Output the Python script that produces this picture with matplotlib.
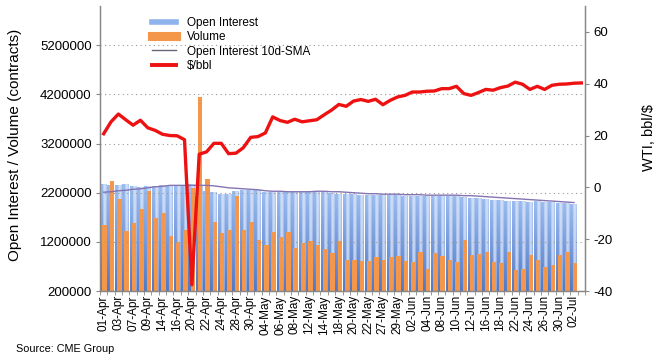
import numpy as np
import matplotlib
matplotlib.use("Agg")
import matplotlib.pyplot as plt
from matplotlib.lines import Line2D
from matplotlib.colors import to_rgb

plt.rcParams['font.family'] = ['Liberation Sans', 'DejaVu Sans']

# trading days (last one has only a price point)
dates = ['01-Apr', '02-Apr', '03-Apr', '06-Apr', '07-Apr', '08-Apr', '09-Apr', '13-Apr', '14-Apr',
         '15-Apr', '16-Apr', '17-Apr', '20-Apr', '21-Apr', '22-Apr', '23-Apr', '24-Apr', '27-Apr',
         '28-Apr', '29-Apr', '30-Apr', '01-May', '04-May', '05-May', '06-May', '07-May', '08-May',
         '11-May', '12-May', '13-May', '14-May', '15-May', '18-May', '19-May', '20-May', '21-May',
         '22-May', '26-May', '27-May', '28-May', '29-May', '01-Jun', '02-Jun', '03-Jun', '04-Jun',
         '05-Jun', '08-Jun', '09-Jun', '10-Jun', '11-Jun', '12-Jun', '15-Jun', '16-Jun', '17-Jun',
         '18-Jun', '19-Jun', '22-Jun', '23-Jun', '24-Jun', '25-Jun', '26-Jun', '29-Jun', '30-Jun',
         '01-Jul', '02-Jul', '03-Jul']

open_interest = [2380000, 2360000, 2350000, 2370000, 2330000, 2320000, 2330000, 2340000, 2350000,
                 2350000, 2350000, 2360000, 2370000, 2340000, 2230000, 2210000, 2180000, 2170000,
                 2240000, 2260000, 2260000, 2250000, 2210000, 2210000, 2210000, 2210000, 2210000,
                 2220000, 2230000, 2220000, 2210000, 2190000, 2180000, 2170000, 2170000, 2160000,
                 2150000, 2150000, 2160000, 2150000, 2150000, 2140000, 2140000, 2130000, 2140000,
                 2130000, 2140000, 2140000, 2130000, 2120000, 2100000, 2100000, 2080000, 2060000,
                 2050000, 2040000, 2040000, 2030000, 2020000, 2030000, 2020000, 2010000, 2000000,
                 1990000, 1980000]

volume = [1540000, 2440000, 2070000, 1430000, 1590000, 1870000, 2240000, 1690000, 1780000,
          1320000, 1200000, 1450000, 2300000, 4150000, 2480000, 1610000, 1390000, 1440000,
          2140000, 1440000, 1610000, 1240000, 1130000, 1410000, 1300000, 1410000, 1070000,
          1170000, 1220000, 1130000, 1050000, 980000, 1210000, 840000, 840000, 820000,
          810000, 890000, 840000, 890000, 910000, 820000, 790000, 990000, 640000,
          980000, 910000, 840000, 790000, 1230000, 940000, 960000, 990000, 800000,
          770000, 990000, 620000, 640000, 940000, 840000, 690000, 730000, 940000,
          990000, 780000]

oi_sma = [2210000, 2220000, 2240000, 2250000, 2270000, 2280000, 2300000, 2320000, 2330000,
          2350000, 2350000, 2350000, 2350000, 2350000, 2350000, 2340000, 2320000, 2300000,
          2290000, 2280000, 2270000, 2260000, 2240000, 2230000, 2230000, 2220000, 2220000,
          2220000, 2220000, 2230000, 2230000, 2220000, 2220000, 2210000, 2200000, 2190000,
          2180000, 2180000, 2170000, 2170000, 2170000, 2160000, 2160000, 2160000, 2150000,
          2150000, 2150000, 2150000, 2150000, 2140000, 2140000, 2130000, 2120000, 2110000,
          2100000, 2090000, 2080000, 2070000, 2060000, 2050000, 2040000, 2030000, 2020000,
          2010000, 2000000]

price = [20.7, 25.3, 28.3, 26.1, 24.0, 25.9, 23.0, 22.0, 20.5, 20.0, 19.9, 18.4,
         -37.6, 12.8, 13.7, 17.0, 17.0, 13.0, 13.2, 15.3, 19.3, 19.6, 21.0, 27.2,
         25.8, 25.1, 26.3, 25.3, 25.7, 26.1, 28.0, 29.8, 32.0, 31.3, 33.3, 33.9,
         33.2, 34.0, 31.9, 33.6, 34.9, 35.5, 36.8, 36.8, 37.1, 37.2, 38.1, 38.1,
         39.0, 36.2, 35.5, 36.6, 37.8, 37.5, 38.5, 39.1, 40.6, 39.8, 37.8, 39.0,
         37.8, 39.4, 39.8, 39.9, 40.2, 40.3]

fig = plt.figure(figsize=(6.58, 3.64), dpi=100)
ax = fig.add_axes([100 / 658, 1 - 291 / 364, 485 / 658, 285 / 364])
ax2 = ax.twinx()

x = np.arange(len(open_interest))
ylo, yhi = 200000, 6000000

# open interest bars with a shaded fill
oi_bars = ax.bar(x - 0.02, open_interest, width=0.92, color='none', edgecolor='none', zorder=1)
top_c = np.array(to_rgb('#9bbcf0'))
bot_c = np.array(to_rgb('#5279c6'))
light_c = np.array(to_rgb('#e2ebfa'))
tt = np.linspace(0, 1, 24)
mix = np.interp(tt, [0, 0.4, 0.55, 0.8, 1.0], [0.0, 0.0, 0.75, 0.75, 0.2])
vv = np.linspace(0, 1, 60)[:, None, None]
base = top_c * (1 - vv) + bot_c * vv
grad = base * (1 - mix[None, :, None]) + light_c * mix[None, :, None]
for b in oi_bars:
    x0, w, h = b.get_x(), b.get_width(), b.get_height()
    im = ax.imshow(grad, extent=(x0, x0 + w, ylo, h), aspect='auto', zorder=1,
                   interpolation='bilinear')
    im.set_clip_path(b)

ax.bar(x + 0.13, volume, width=0.6, color='#f4974a', zorder=2)
ax.plot(x, oi_sma, color='#8474b2', lw=1.0, zorder=3)

ax.set_xlim(-0.5, len(dates) - 0.5)
ax.set_ylim(ylo, yhi)
ax.set_yticks(np.arange(200000, 5300000, 1000000))
ax.set_yticklabels([str(v) for v in range(200000, 5300000, 1000000)], fontsize=9.5)
ax.yaxis.grid(True, linestyle=(0, (1, 3)), color='#999999', lw=0.8)
ax.set_axisbelow(False)

ax.set_xticks(np.arange(0, len(dates) - 1, 2))
ax.set_xticklabels(dates[0:len(dates) - 1:2], rotation=90, fontsize=8.5)
ax.set_xticks(np.arange(-0.5, len(dates), 1), minor=True)
ax.tick_params(axis='x', which='major', length=0, pad=3)
ax.tick_params(axis='x', which='minor', length=3, color='#888888')
ax.tick_params(axis='y', length=3, color='#888888', pad=3)

ax2.plot(np.arange(len(price)), price, color='#ee1111', lw=2.4, zorder=5)
ax2.set_ylim(-40, 70)
ax2.set_yticks([-40, -20, 0, 20, 40, 60])
ax2.set_yticklabels(['-40', '-20', '0', '20', '40', '60'], fontsize=9.5)
ax2.tick_params(axis='y', length=3, color='#888888', pad=3)

for a in (ax, ax2):
    a.spines['top'].set_visible(False)
    for s in ('left', 'right', 'bottom'):
        a.spines[s].set_color('#888888')
        a.spines[s].set_linewidth(0.9)

ax.set_ylabel('Open Interest / Volume (contracts)', fontsize=11)
ax.yaxis.set_label_coords(-0.161, 0.512)
ax2.set_ylabel('WTI, bbl/$', fontsize=10.5)
ax2.yaxis.set_label_coords(1.117, 0.54)

handles = [Line2D([], [], color='#8db2ec', lw=4),
           Line2D([], [], color='#f4974a', lw=6.5),
           Line2D([], [], color='#666677', lw=1.0),
           Line2D([], [], color='#ee1111', lw=2.8)]
labels = ['Open Interest', 'Volume', 'Open Interest 10d-SMA', '$/bbl']
ax2.legend(handles, labels, loc='upper left', bbox_to_anchor=(0.107, 0.962), frameon=False,
           fontsize=8.5, handlelength=2.0, handletextpad=1.0, labelspacing=0.2,
           borderpad=0, borderaxespad=0)

fig.text(16 / 658, 1 - 349 / 364, 'Source: CME Group', fontsize=7.8, va='center', ha='left')

fig.savefig('out.png', dpi=100)
